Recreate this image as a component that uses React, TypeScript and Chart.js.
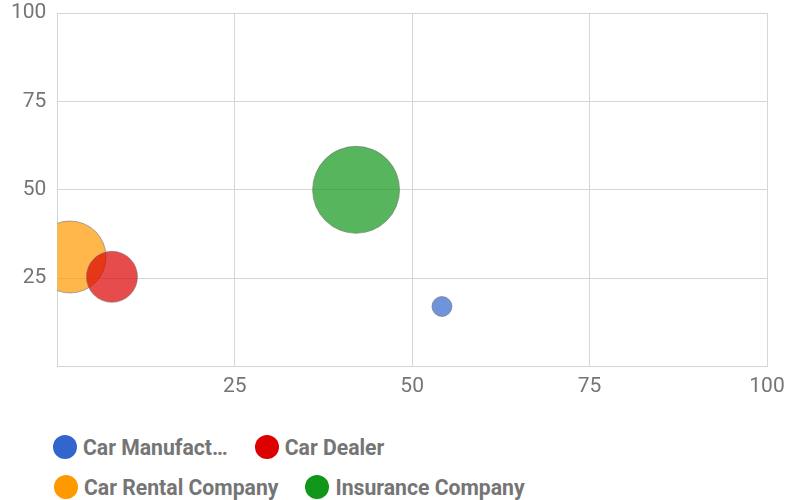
import React, { useEffect, useRef } from 'react';
import { Chart, registerables } from 'chart.js';

Chart.register(...registerables);

const seriesNames = ['Car Manufacturer', 'Car Dealer', 'Car Rental Company', 'Insurance Company'];
const legendLabels = ['Car Manufact…', 'Car Dealer', 'Car Rental Company', 'Insurance Company'];
const seriesColors = ['#3366cc', '#dc0000', '#ff9900', '#109618'];
const bubbleFills = ['rgba(51,102,204,0.7)', 'rgba(220,0,0,0.7)', 'rgba(255,153,0,0.7)', 'rgba(16,150,24,0.7)'];
const xValues = [54.2, 7.7, 1.8, 42.1];
const yValues = [17.0, 25.4, 31.0, 50.0];
const bubbleRadii = [10, 25.5, 36, 43.5];
const axisMin = 0;
const axisMax = 100;
const axisStep = 25;

const FONT = 'Roboto, "Noto Sans", sans-serif';

export default function App() {
  const canvasRef = useRef<HTMLCanvasElement | null>(null);

  useEffect(() => {
    const canvas = canvasRef.current;
    if (!canvas) return;
    const datasets = seriesNames.map((name, i) => ({
      label: name,
      data: [{ x: xValues[i], y: yValues[i], r: bubbleRadii[i] }],
      backgroundColor: bubbleFills[i],
      borderColor: 'rgba(110,110,110,0.55)',
      borderWidth: 1,
      hoverBorderWidth: 1,
    }));
    const tickCb = (v: any) => (Number(v) === 0 ? '' : String(v));
    const chart = new Chart(canvas, {
      type: 'bubble',
      data: { datasets },
      options: {
        animation: false,
        responsive: false,
        devicePixelRatio: 1,
        layout: { autoPadding: false, padding: { left: 0, right: 21, top: 13, bottom: 0 } },
        plugins: {
          legend: { display: false },
          tooltip: { enabled: false },
        },
        scales: {
          x: {
            type: 'linear',
            min: axisMin,
            max: axisMax,
            ticks: {
              stepSize: axisStep,
              callback: tickCb,
              color: '#757575',
              font: { family: FONT, size: 21 },
              padding: 8,
              maxRotation: 0,
              z: 1,
            },
            grid: { color: '#d6d6d6', drawTicks: false, lineWidth: 1 },
            border: { color: '#d6d6d6' },
            afterFit: (s: any) => {
              s.height = 53.4;
              s.paddingLeft = 0;
              s.paddingRight = 0;
            },
          },
          y: {
            type: 'linear',
            min: axisMin,
            max: axisMax,
            ticks: {
              stepSize: axisStep,
              callback: tickCb,
              color: '#757575',
              font: { family: FONT, size: 21 },
              padding: 11,
              z: 1,
            },
            grid: { color: '#d6d6d6', drawTicks: false, lineWidth: 1 },
            border: { color: '#d6d6d6' },
            afterFit: (s: any) => {
              s.width = 57.3;
              s.paddingTop = 0;
              s.paddingBottom = 0;
            },
          },
        },
      },
    });
    return () => chart.destroy();
  }, []);

  const legendRow = (idx: number[], top: number, left: number, gap: number) => (
    <div
      style={{
        position: 'absolute',
        top,
        left,
        display: 'flex',
        alignItems: 'center',
        height: 26,
      }}
    >
      {idx.map((i, k) => (
        <div key={i} style={{ display: 'flex', alignItems: 'center', marginRight: k === 0 ? gap : 0 }}>
          <span
            style={{
              display: 'inline-block',
              width: 24,
              height: 24,
              borderRadius: '50%',
              background: seriesColors[i],
              marginRight: 6,
            }}
          />
          <span style={{ fontFamily: FONT, fontWeight: 700, fontSize: 21.2, color: '#757575', whiteSpace: 'nowrap' }}>
            {legendLabels[i]}
          </span>
        </div>
      ))}
    </div>
  );

  return (
    <div style={{ position: 'fixed', left: 0, top: 0, width: 788, height: 500, background: '#fff', overflow: 'hidden' }}>
      <canvas ref={canvasRef} width={788} height={420} style={{ position: 'absolute', left: 0, top: 0 }} />
      {legendRow([0, 1], 434, 53, 27)}
      {legendRow([2, 3], 474, 54, 27)}
    </div>
  );
}
